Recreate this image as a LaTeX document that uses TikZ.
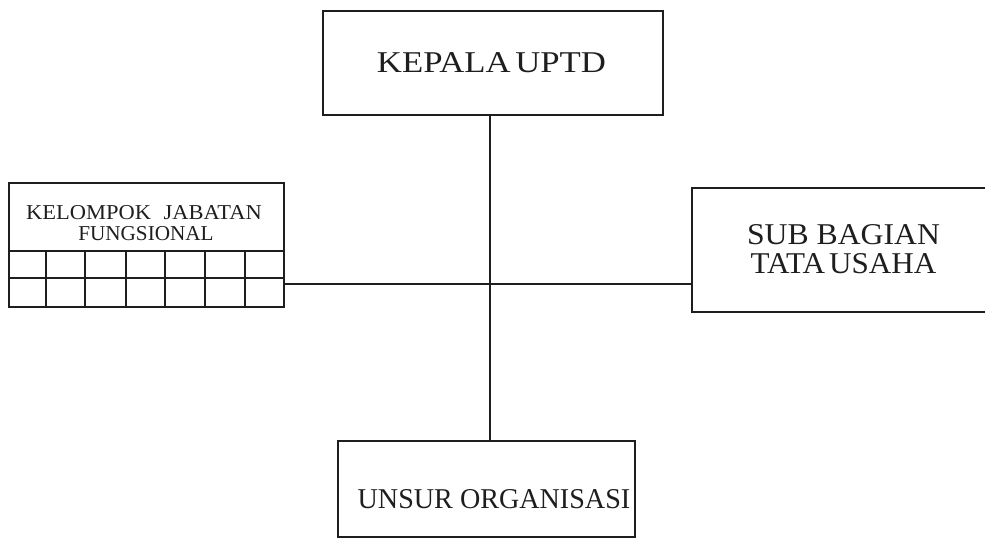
\documentclass[tikz,border=0pt]{standalone}
\usepackage{fontspec}
\setmainfont{Liberation Serif}
\usepackage{graphicx}
\definecolor{ink}{HTML}{1E1E1E}
\begin{document}
\begin{tikzpicture}[x=1pt,y=-1pt,
  box/.style={draw=ink, line width=1.6pt, rectangle, inner sep=0pt},
  conn/.style={draw=ink, line width=1.6pt},
  grid/.style={draw=ink, line width=1.4pt},
  txt/.style={anchor=base, inner sep=0pt, text=ink}]
\useasboundingbox (0,0) rectangle (985,538);
\clip (0,0) rectangle (985,538);
% boxes
\node[box, minimum width=340pt, minimum height=104pt] (kepala) at (493,63) {};
\node[box, minimum width=303pt, minimum height=124pt] (sub) at (843.5,250) {};
\node[box, minimum width=297pt, minimum height=96pt] (unsur) at (486.5,489) {};
\node[box, minimum width=275pt, minimum height=124pt] (kel) at (146.5,245) {};
% grid in kelompok box
\draw[grid] (9,251) -- (284,251);
\draw[grid] (9,278) -- (284,278);
\foreach \x in {46,85,126,165,205,245}
  \draw[grid] (\x,251) -- (\x,307);
% texts
\node[txt, font=\fontsize{30.2}{30}\selectfont] (tkepala) at (491.5,72) {\scalebox{1.15}[1]{KEPALA\hspace{4pt}UPTD}};
\node[txt, font=\fontsize{30.2}{30}\selectfont] (tsub1) at (843.5,244) {\scalebox{1.05}[1]{SUB BAGIAN}};
\node[txt, font=\fontsize{30.2}{30}\selectfont] (tsub2) at (843.5,273) {\scalebox{1.03}[1]{TATA\hspace{4pt}USAHA}};
\node[txt, font=\fontsize{28.7}{30}\selectfont] (tunsur) at (494,508) {\scalebox{0.98}[1]{UNSUR ORGANISASI}};
\node[txt, font=\fontsize{21.2}{22}\selectfont] (tkel1) at (144,219) {\scalebox{1.06}[1]{KELOMPOK\hspace{12pt}JABATAN}};
\node[txt, font=\fontsize{21.2}{22}\selectfont] (tkel2) at (146,240) {\scalebox{1.0}[1]{FUNGSIONAL}};
% connectors
\coordinate (j) at (490,284);
\draw[conn] (kepala.south -| j) -- (unsur.north -| j);
\draw[conn] (kel.east |- j) -- (sub.west |- j);
\end{tikzpicture}
\end{document}
